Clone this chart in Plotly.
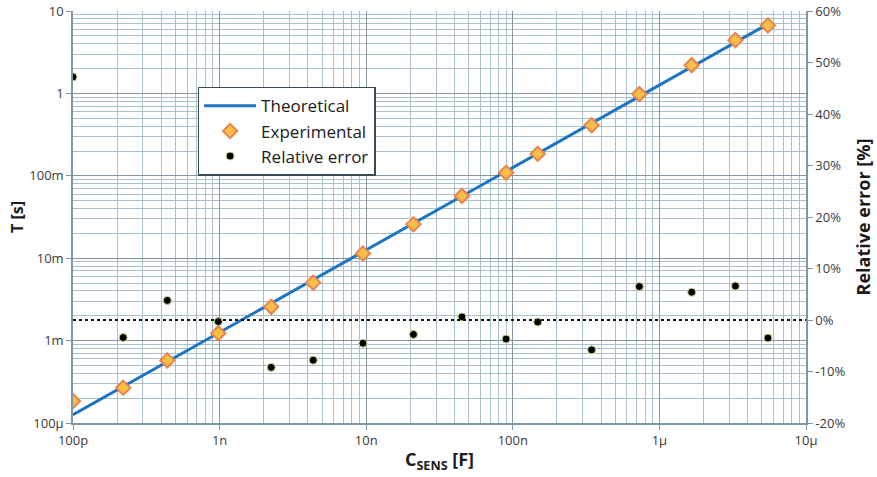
import plotly.graph_objects as go

# Capacitance values [F]
c_sens = [100e-12, 220e-12, 440e-12, 0.98e-9, 2.25e-9, 4.35e-9, 9.5e-9, 21e-9,
          45e-9, 90e-9, 148e-9, 345e-9, 730e-9, 1.66e-6, 3.3e-6, 5.5e-6]
# Theoretical period [s]
t_theoretical = [126e-6, 277e-6, 554e-6, 1.235e-3, 2.835e-3, 5.48e-3, 11.97e-3, 26.5e-3,
                 56.7e-3, 113e-3, 186e-3, 435e-3, 0.92, 2.09, 4.16, 6.93]
# Experimental period [s]
t_experimental = [185e-6, 268e-6, 575e-6, 1.23e-3, 2.57e-3, 5.05e-3, 11.4e-3, 25.8e-3,
                  57e-3, 109e-3, 185e-3, 410e-3, 0.98, 2.20, 4.43, 6.69]
# Relative error [%]
rel_error = [47.2, -3.4, 3.8, -0.3, -9.2, -7.8, -4.5, -2.8, 0.6, -3.7, -0.4, -5.8,
             6.5, 5.4, 6.6, -3.5]

y2_tickvals = [-20, -10, 0, 10, 20, 30, 40, 50, 60]
y2_ticktext = ["-20%", "-10%", "0%", "10%", "20%", "30%", "40%", "50%", "60%"]

FONT = "Open Sans"
major_grid = "#8495a0"
minor_grid = "#a9bfcc"
axis_col = "#7f97a6"
tick_font = dict(family=FONT, size=13, color="#3a3a3a")

fig = go.Figure()
fig.add_trace(go.Scatter(
    x=c_sens, y=t_theoretical, mode="lines", name="Theoretical",
    line=dict(color="#1b75c4", width=3), legendgroup="a"))
fig.add_trace(go.Scatter(
    x=c_sens, y=t_experimental, mode="markers", name="Experimental",
    marker=dict(symbol="diamond", size=11, color="#f7bf45",
                line=dict(color="#e8844f", width=2)), legendgroup="b"))
fig.add_trace(go.Scatter(
    x=c_sens, y=rel_error, mode="markers", name="Relative error", yaxis="y2",
    marker=dict(symbol="circle", size=8, color="#000000",
                line=dict(color="#c9d98a", width=1)), legendgroup="c"))

fig.add_shape(type="line", xref="paper", x0=0, x1=1, yref="y2", y0=0, y1=0,
              line=dict(color="#111111", width=2, dash="dot"), layer="above")

minor_cfg = dict(dtick="D1", showgrid=True, gridcolor=minor_grid, gridwidth=1, ticks="")

fig.update_layout(
    width=877, height=477,
    margin=dict(l=73, r=71, t=11, b=54, autoexpand=False),
    paper_bgcolor="white", plot_bgcolor="white",
    font=dict(family=FONT, color="#222222"),
    showlegend=True,
    legend=dict(x=0.17, y=0.816, xanchor="left", yanchor="top",
                bgcolor="white", bordercolor="#3a4a55", borderwidth=1.5,
                font=dict(family=FONT, size=17, color="#1a1a1a"),
                tracegroupgap=0, itemwidth=52),
    xaxis=dict(
        type="log", range=[-10, -5], dtick=1, tickformat="~s",
        tickfont=tick_font, automargin=False,
        showgrid=True, gridcolor=major_grid, gridwidth=1.3,
        showline=True, linecolor=axis_col, linewidth=1.5,
        ticks="outside", ticklen=5, tickcolor=axis_col,
        minor=minor_cfg, zeroline=False,
        title=dict(text="<b>C<sub>SENS</sub> [F]</b>",
                   font=dict(family=FONT, size=18, color="#1a1a1a"), standoff=5),
    ),
    yaxis=dict(
        type="log", range=[-4, 1], dtick=1, tickformat="~s",
        tickfont=tick_font, automargin=False,
        showgrid=True, gridcolor=major_grid, gridwidth=1.3,
        showline=True, linecolor=axis_col, linewidth=1.5,
        ticks="outside", ticklen=5, tickcolor=axis_col,
        minor=minor_cfg, zeroline=False,
        title=dict(text="<b>T [s]</b>",
                   font=dict(family=FONT, size=16, color="#1a1a1a"), standoff=2),
    ),
    yaxis2=dict(
        overlaying="y", side="right", range=[-20, 60],
        tickvals=y2_tickvals, ticktext=y2_ticktext, tickfont=tick_font,
        showgrid=False, zeroline=False, automargin=False,
        showline=True, linecolor=axis_col, linewidth=1.5,
        ticks="outside", ticklen=5, tickcolor=axis_col,
        title=dict(text="<b>Relative error [%]</b>",
                   font=dict(family=FONT, size=18, color="#1a1a1a"), standoff=13),
    ),
)

fig.write_html("out.html", config={"displayModeBar": False},
               post_script="document.body.style.margin='0';")
